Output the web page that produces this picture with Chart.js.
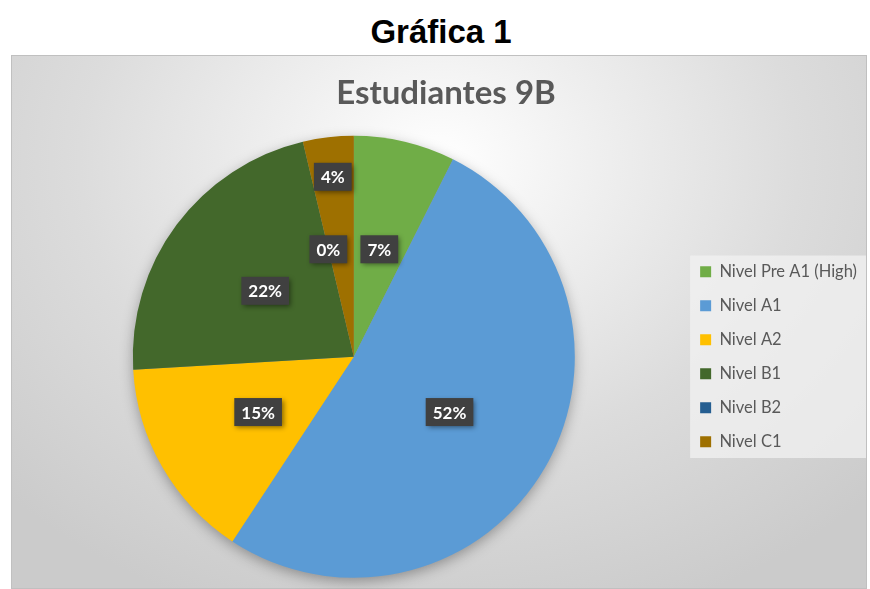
<!DOCTYPE html>
<html>
<head>
<meta charset="utf-8">
<script src="https://cdn.jsdelivr.net/npm/chart.js@4.4.1/dist/chart.umd.min.js"></script>
<style>
  body { margin: 0; background: #fff; width: 870px; height: 589px; overflow: hidden; position: relative; }
  #pageTitle {
    position: absolute; left: 0; top: 13px; width: 882px; text-align: center;
    font-family: "Liberation Sans", Arial, sans-serif; font-weight: bold; font-size: 33px; color: #000;
  }
  #box {
    position: absolute; left: 11px; top: 55px; width: 856px; height: 534px;
    background: radial-gradient(ellipse 70% 90% at 50% 20%, #ffffff 0%, #f0f0f0 25%, #dcdcdc 60%, #cbcbcb 100%);
    box-shadow: inset 0 0 0 1px #c0c0c0;
  }
  #box canvas { position: absolute; left: 0; top: 0; }
</style>
</head>
<body>
<div id="pageTitle">Gráfica 1</div>
<div id="box"><canvas id="pieChart" width="856" height="534"></canvas></div>
<script>
const categories = ['Nivel Pre A1 (High)', 'Nivel A1', 'Nivel A2', 'Nivel B1', 'Nivel B2', 'Nivel C1'];
const students = [2, 14, 4, 6, 0, 1];
const chartTitle = 'Estudiantes 9B';

const sliceColors = ['#70ad47', '#5b9bd5', '#ffc000', '#43682b', '#255e91', '#9e7000'];

// shadow under the pie
const pieShadow = {
    id: 'pieShadow',
    beforeDatasetsDraw(chart) {
        const arc = chart.getDatasetMeta(0).data[0];
        if (!arc) return;
        const p = arc.getProps(['x', 'y', 'outerRadius'], true);
        const ctx = chart.ctx;
        ctx.save();
        ctx.shadowColor = 'rgba(0,0,0,0.35)';
        ctx.shadowBlur = 14;
        ctx.shadowOffsetY = 4;
        ctx.fillStyle = '#999';
        ctx.beginPath();
        ctx.arc(p.x, p.y, p.outerRadius - 1, 0, Math.PI * 2);
        ctx.fill();
        ctx.restore();
    }
};

// light box behind the legend
const legendBox = {
    id: 'legendBox',
    beforeDraw(chart) {
        const boxes = chart.legend.legendHitBoxes;
        if (!boxes || !boxes.length) return;
        const first = boxes[0];
        const last = boxes[boxes.length - 1];
        const ctx = chart.ctx;
        const left = first.left - 10;
        const top = first.top - 8;
        const bottom = last.top + last.height + 8;
        ctx.save();
        ctx.fillStyle = 'rgba(242,242,242,0.75)';
        ctx.fillRect(left, top, chart.width - 1 - left, bottom - top);
        ctx.restore();
    }
};

// percentage labels in dark boxes
const percentLabels = {
    id: 'percentLabels',
    afterDatasetsDraw(chart) {
        const ctx = chart.ctx;
        const meta = chart.getDatasetMeta(0);
        const values = chart.data.datasets[0].data;
        const total = values.reduce((a, b) => a + b, 0);
        ctx.save();
        ctx.font = 'bold 17px Lato';
        ctx.textAlign = 'center';
        ctx.textBaseline = 'middle';
        meta.data.forEach((arc, i) => {
            const p = arc.getProps(['x', 'y', 'startAngle', 'endAngle', 'outerRadius'], true);
            const share = values[i] / total;
            const mid = (p.startAngle + p.endAngle) / 2;
            const dist = (share > 0 && share < 0.05) ? p.outerRadius * 0.82 : p.outerRadius * 0.5;
            const x = p.x + Math.cos(mid) * dist;
            const y = p.y + Math.sin(mid) * dist;
            const text = Math.round(share * 100) + '%';
            const w = ctx.measureText(text).width + 14;
            const h = 28;
            ctx.shadowColor = 'rgba(0,0,0,0.45)';
            ctx.shadowBlur = 5;
            ctx.shadowOffsetX = 2;
            ctx.shadowOffsetY = 2;
            ctx.fillStyle = '#404040';
            ctx.fillRect(x - w / 2, y - h / 2, w, h);
            ctx.shadowColor = 'transparent';
            ctx.fillStyle = '#ffffff';
            ctx.fillText(text, x, y + 1);
        });
        ctx.restore();
    }
};

const ctx = document.getElementById('pieChart').getContext('2d');
new Chart(ctx, {
    type: 'pie',
    data: {
        labels: categories,
        datasets: [{
            data: students,
            backgroundColor: sliceColors,
            borderWidth: 0
        }]
    },
    options: {
        responsive: false,
        animation: false,
        events: [],
        radius: 221,
        layout: { padding: { left: 14, right: 0, top: 0, bottom: 0 } },
        plugins: {
            title: {
                display: true,
                text: chartTitle,
                color: '#595959',
                font: { family: 'Lato', size: 33, weight: 'bold' },
                padding: { top: 19, bottom: 11 }
            },
            legend: {
                position: 'right',
                fullSize: false,
                labels: {
                    color: '#595959',
                    font: { family: 'Lato', size: 16.5 },
                    boxWidth: 11,
                    boxHeight: 11,
                    padding: 17.5
                }
            },
            tooltip: { enabled: false }
        }
    },
    plugins: [pieShadow, legendBox, percentLabels]
});
</script>
</body>
</html>
